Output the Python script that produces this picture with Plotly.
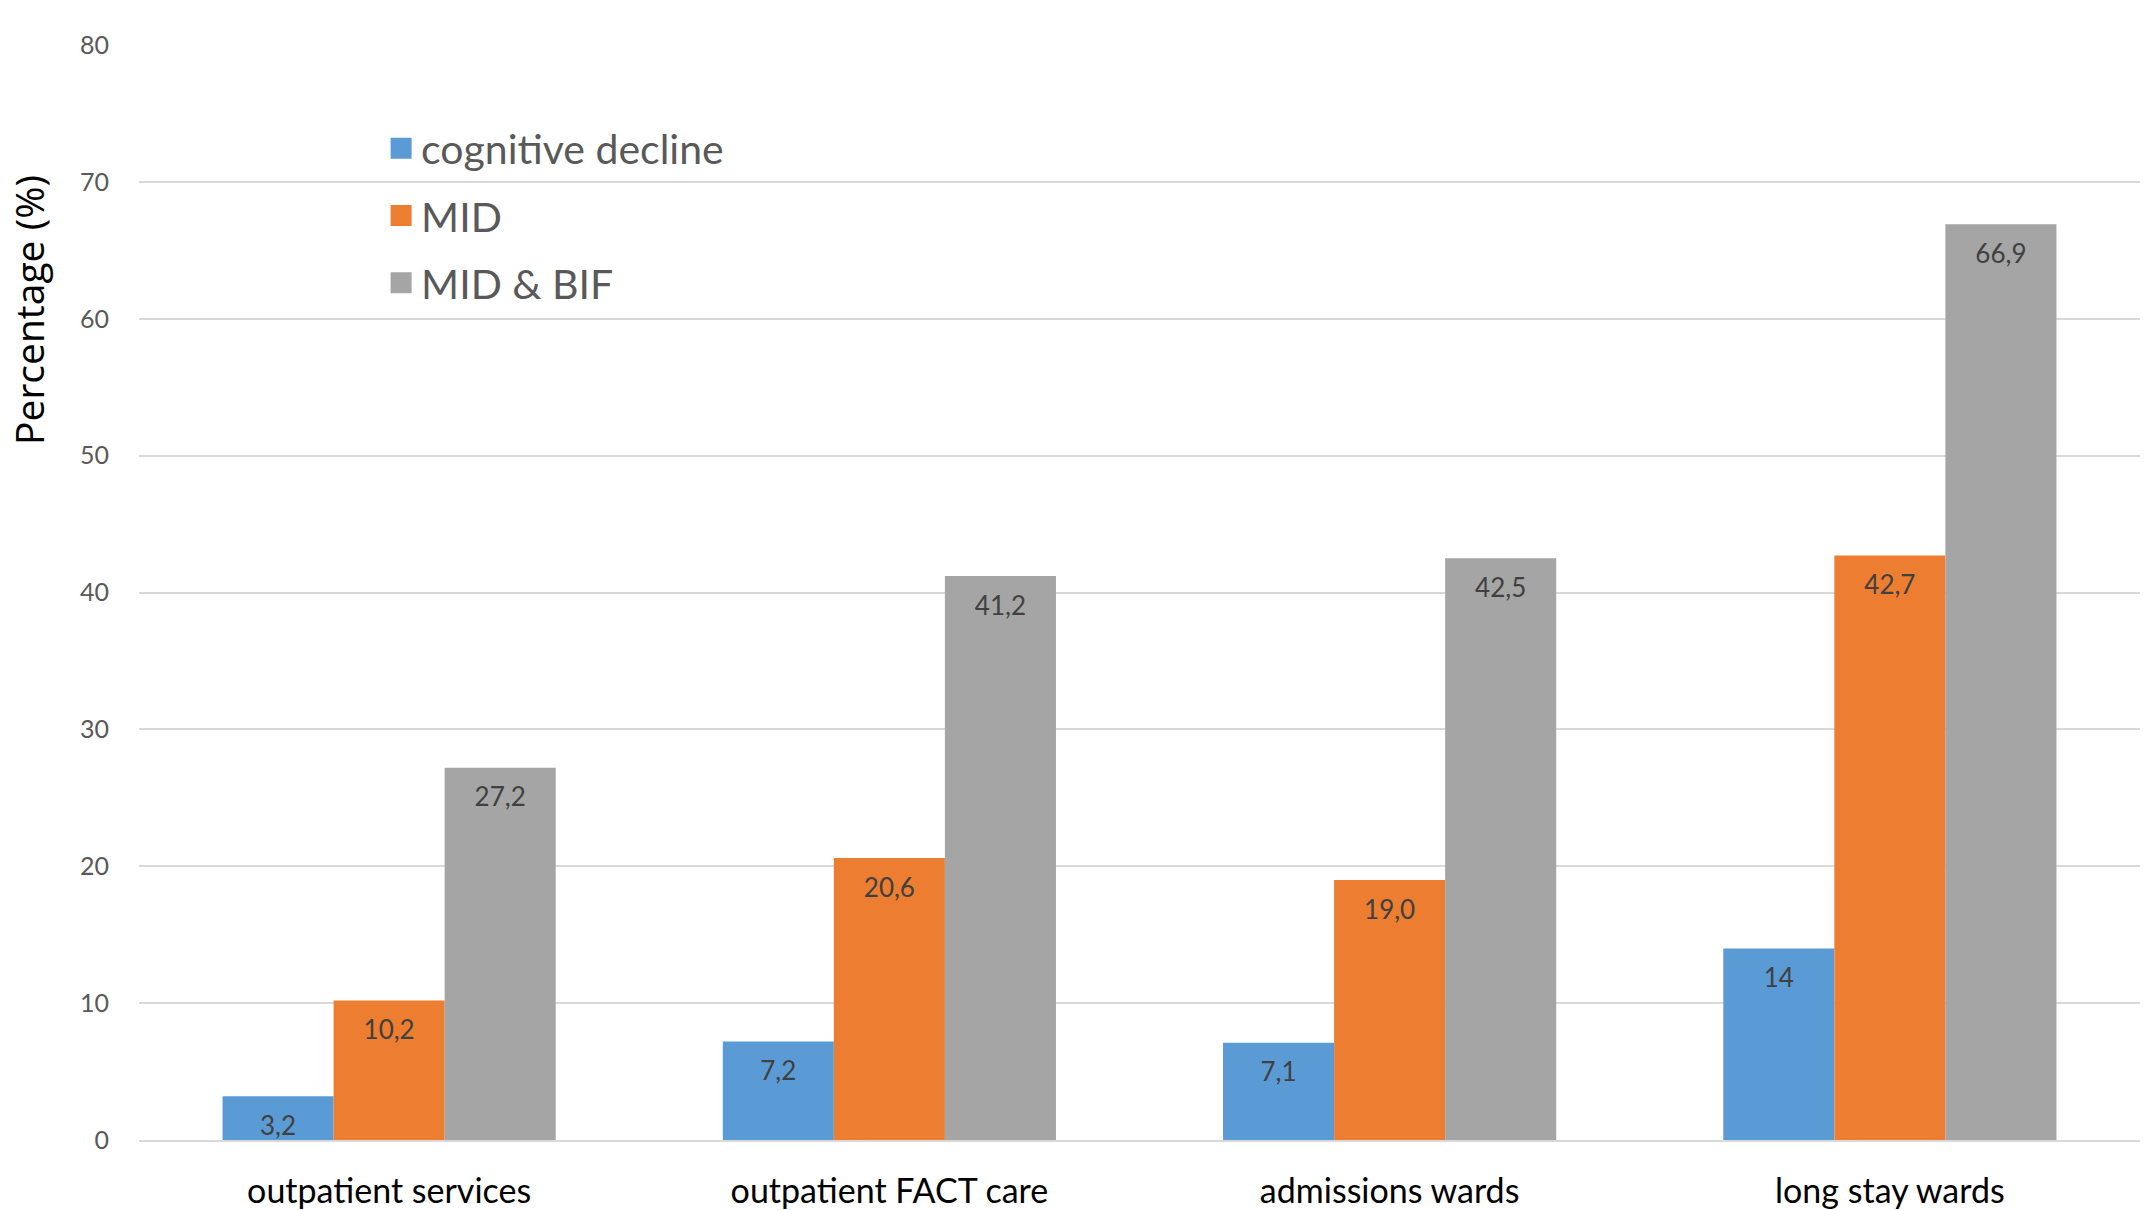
import plotly.graph_objects as go

categories = ["outpatient services", "outpatient FACT care", "admissions wards", "long stay wards"]
series_names = ["cognitive decline", "MID", "MID & BIF"]
cognitive_decline = [3.2, 7.2, 7.1, 14.0]
mid = [10.2, 20.6, 19.0, 42.7]
mid_bif = [27.2, 41.2, 42.5, 66.9]
labels_cognitive = ["3,2", "7,2", "7,1", "14"]
labels_mid = ["10,2", "20,6", "19,0", "42,7"]
labels_mid_bif = ["27,2", "41,2", "42,5", "66,9"]
y_ticks = [0, 10, 20, 30, 40, 50, 60, 70, 80]

colors = ["#5B9BD5", "#ED7D31", "#A5A5A5"]
values = [cognitive_decline, mid, mid_bif]
labels = [labels_cognitive, labels_mid, labels_mid_bif]

fig = go.Figure()
for i, (name, vals, col) in enumerate(zip(series_names, values, colors)):
    fig.add_trace(go.Bar(
        x=categories, y=vals, name=name, offsetgroup=str(i),
        marker=dict(color=col, line=dict(width=0)), showlegend=False,
    ))
# value labels, placed just inside the top of each bar
for i, (name, vals, txt) in enumerate(zip(series_names, values, labels)):
    fig.add_trace(go.Scatter(
        x=categories, y=vals, mode="markers+text", offsetgroup=str(i),
        marker=dict(size=29, color="rgba(0,0,0,0)"),
        text=txt, textposition="bottom center",
        textfont=dict(family="Lato", size=26, color="#404040"),
        showlegend=False, hoverinfo="skip", cliponaxis=False,
    ))
# legend entries
for i, (name, col) in enumerate(zip(series_names, colors)):
    fig.add_trace(go.Scatter(
        x=[None], y=[None], mode="markers", name=name, legendgroup=f"g{i}",
        offsetgroup=str(i),
        marker=dict(symbol="square", size=16, color=col, line=dict(color=col, width=5)),
    ))

fig.add_annotation(
    text="Percentage (%)", xref="paper", yref="paper", x=-0.055, y=0.758,
    xanchor="center", yanchor="middle", textangle=-90, showarrow=False,
    font=dict(family="Open Sans", size=39, color="black"),
)

fig.update_layout(
    width=2151, height=1210,
    margin=dict(l=139, r=11, t=45, b=70),
    paper_bgcolor="white", plot_bgcolor="white",
    barmode="group", bargap=0.334, bargroupgap=0,
    scattermode="group", scattergap=0.334,
    font=dict(family="Lato", color="#595959"),
    legend=dict(
        x=0.121, y=0.936, xanchor="left", yanchor="top",
        font=dict(family="Lato", size=41, color="#595959"),
        traceorder="grouped", tracegroupgap=11, itemsizing="trace",
        bgcolor="rgba(0,0,0,0)",
    ),
    showlegend=True,
)
fig.update_xaxes(
    type="category", range=[-0.5, 3.5], showgrid=False, automargin=False,
    showline=True, linecolor="#D9D9D9", linewidth=2,
    ticks="outside", ticklen=20, tickcolor="rgba(0,0,0,0)",
    tickfont=dict(family="Lato", size=34, color="black"),
)
fig.update_yaxes(
    range=[0, 80], tickvals=y_ticks, showgrid=True, gridcolor="#D9D9D9", gridwidth=2,
    zeroline=False, showline=False, automargin=False,
    ticks="outside", ticklen=24, tickcolor="rgba(0,0,0,0)",
    tickfont=dict(family="Lato", size=25, color="#595959"),
)

fig.write_html("out.html")
